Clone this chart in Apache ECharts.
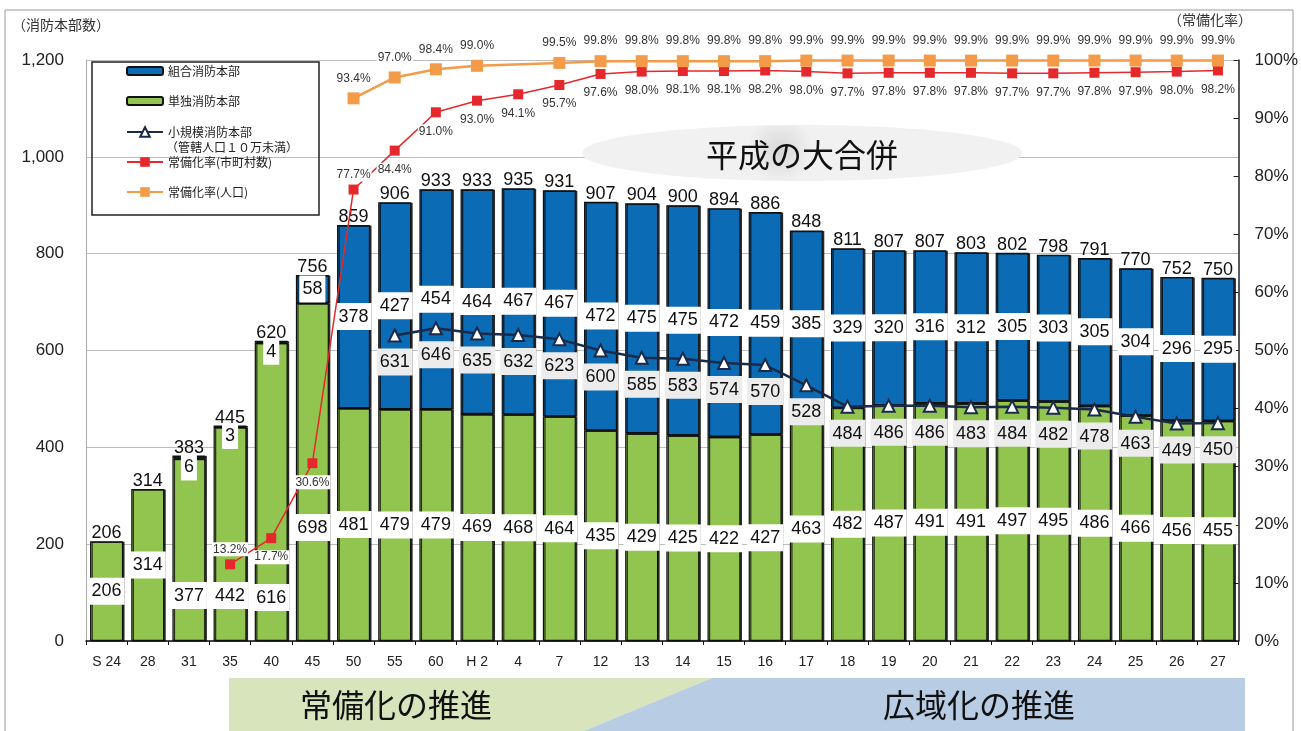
<!DOCTYPE html>
<html>
<head>
<meta charset="utf-8">
<script src="https://cdn.jsdelivr.net/npm/echarts@6/dist/echarts.min.js"></script>
<style>
  html, body { margin: 0; background: #fff; }
  #main { width: 1301px; height: 731px; }
</style>
</head>
<body>
<div id="main"></div>
<script>
// 年度（昭和S / 平成H）
const categories = ['S 24', '28', '31', '35', '40', '45', '50', '55', '60', 'H 2', '4', '7',
  '12', '13', '14', '15', '16', '17', '18', '19', '20', '21', '22', '23', '24', '25', '26', '27'];
// 消防本部数 合計
const totals = [206, 314, 383, 445, 620, 756, 859, 906, 933, 933, 935, 931,
  907, 904, 900, 894, 886, 848, 811, 807, 807, 803, 802, 798, 791, 770, 752, 750];
// 単独消防本部
const single = [206, 314, 377, 442, 616, 698, 481, 479, 479, 469, 468, 464,
  435, 429, 425, 422, 427, 463, 482, 487, 491, 491, 497, 495, 486, 466, 456, 455];
// 組合消防本部
const combined = [null, null, 6, 3, 4, 58, 378, 427, 454, 464, 467, 467,
  472, 475, 475, 472, 459, 385, 329, 320, 316, 312, 305, 303, 305, 304, 296, 295];
// 小規模消防本部（管轄人口10万未満）
const smallScale = [null, null, null, null, null, null, null, 631, 646, 635, 632, 623,
  600, 585, 583, 574, 570, 528, 484, 486, 486, 483, 484, 482, 478, 463, 449, 450];
// 常備化率（市町村数） %
const rateMunicipal = [null, null, null, 13.2, 17.7, 30.6, 77.7, 84.4, 91.0, 93.0, 94.1, 95.7,
  97.6, 98.0, 98.1, 98.1, 98.2, 98.0, 97.7, 97.8, 97.8, 97.8, 97.7, 97.7, 97.8, 97.9, 98.0, 98.2];
// 常備化率（人口） %
const ratePopulation = [null, null, null, null, null, null, 93.4, 97.0, 98.4, 99.0, null, 99.5,
  99.8, 99.8, 99.8, 99.8, 99.8, 99.9, 99.9, 99.9, 99.9, 99.9, 99.9, 99.9, 99.9, 99.9, 99.9, 99.9];

const NUM = '"Liberation Sans", Arial, sans-serif';
const JP = '"Noto Sans CJK JP", sans-serif';
const BLUE = '#0B6CB5', GREEN = '#92C550', NAVY = '#1B2A48', RED = '#E5282C', ORANGE = '#F39B48';

// label placement tweaks (layout only)
const greenLift = { '31': 32, '35': 32, '40': 30, '45': 100 };
const redAbove = ['35', '50'];

const chart = echarts.init(document.getElementById('main'));

const barLabel = {
  show: true, position: 'inside', fontFamily: NUM, fontSize: 18, color: '#111',
  backgroundColor: '#fff', padding: [5, 3, 4, 3]
};
const barItem = c => ({
  color: c, borderColor: '#111', borderWidth: 1.2,
  shadowColor: 'rgba(0,0,0,0.75)', shadowOffsetX: 1.5, shadowOffsetY: 0.5
});

const singleData = single.map((v, i) => greenLift[categories[i]]
  ? { value: v, label: { position: 'insideBottom', distance: greenLift[categories[i]] } } : v);
const combinedData = combined.map(v => v == null ? null
  : (v < 10 ? { value: v, label: { position: 'bottom', distance: -5 } } : v));
const redData = rateMunicipal.map((v, i) => v == null ? null
  : (redAbove.includes(categories[i]) ? { value: v, label: { position: 'top', distance: 3 } } : v));

const pctLabel = pos => ({
  show: true, position: pos, distance: 7, fontFamily: NUM, fontSize: 12, color: '#333',
  backgroundColor: '#fff', padding: [1, 1],
  formatter: p => p.value.toFixed(1) + '%'
});

const legendBase = (name, top, h) => ({
  left: 126, top: top, padding: 0, itemWidth: 36, itemHeight: h,
  textStyle: { fontFamily: JP, fontSize: 12, color: '#222' },
  data: [name]
});

const option = {
  animation: false,
  grid: { left: 86, right: 61, top: 60, bottom: 90 },
  legend: [
    legendBase('組合消防本部', 65, 8),
    legendBase('単独消防本部', 95, 8),
    legendBase('小規模消防本部', 126, 12),
    legendBase('常備化率(市町村数)', 156, 12),
    legendBase('常備化率(人口)', 186, 12)
  ],
  xAxis: {
    type: 'category',
    data: categories,
    axisLine: { lineStyle: { color: '#111', width: 1.5 } },
    axisTick: { show: true, length: 4, lineStyle: { color: '#111' } },
    axisLabel: { fontFamily: NUM, fontSize: 14, color: '#222', margin: 14 }
  },
  yAxis: [
    {
      type: 'value', min: 0, max: 1200, interval: 200,
      axisLine: { show: true, lineStyle: { color: '#aaa' } },
      axisTick: { show: false },
      splitLine: { lineStyle: { color: '#bdbdbd' } },
      axisLabel: { fontFamily: NUM, fontSize: 17, color: '#222', margin: 22,
        formatter: v => v.toLocaleString('en-US') }
    },
    {
      type: 'value', min: 0, max: 100, interval: 10, position: 'right',
      axisLine: { show: true, lineStyle: { color: '#222', width: 1.5 } },
      axisTick: { show: true, inside: true, length: 5, lineStyle: { color: '#222' } },
      splitLine: { show: false },
      axisLabel: { fontFamily: NUM, fontSize: 17, color: '#222', margin: 16, formatter: '{value}%' }
    }
  ],
  series: [
    {
      name: '単独消防本部', type: 'bar', stack: 'hq', barWidth: 33, barGap: '-100%',
      data: singleData, itemStyle: barItem(GREEN), label: barLabel
    },
    {
      name: '組合消防本部', type: 'bar', stack: 'hq', barWidth: 33, barGap: '-100%',
      data: combinedData, itemStyle: barItem(BLUE), label: barLabel
    },
    {
      name: '合計', type: 'bar', barWidth: 33, barGap: '-100%', silent: true,
      data: totals, itemStyle: { color: 'rgba(0,0,0,0)' },
      label: { show: true, position: 'top', distance: -1, fontFamily: NUM, fontSize: 18, color: '#111' }
    },
    {
      name: '小規模消防本部', type: 'line', yAxisIndex: 0, z: 3,
      data: smallScale, symbol: 'triangle', symbolSize: 12,
      itemStyle: { color: '#fff', borderColor: NAVY, borderWidth: 2 },
      lineStyle: { color: NAVY, width: 2.5 },
      label: { show: true, position: 'bottom', distance: 6, fontFamily: NUM, fontSize: 18, color: '#111',
        backgroundColor: '#ECECEC', padding: [5, 3, 4, 3] }
    },
    {
      name: '常備化率(市町村数)', type: 'line', yAxisIndex: 1, z: 3,
      data: redData, symbol: 'rect', symbolSize: 10,
      itemStyle: { color: RED }, lineStyle: { color: RED, width: 1.5 },
      label: pctLabel('bottom')
    },
    {
      name: '常備化率(人口)', type: 'line', yAxisIndex: 1, z: 3, connectNulls: true,
      data: ratePopulation, symbol: 'rect', symbolSize: 12,
      itemStyle: { color: ORANGE }, lineStyle: { color: ORANGE, width: 2.5 },
      label: pctLabel('top')
    }
  ],
  graphic: [
    { type: 'rect', z: 0, shape: { x: 5, y: 10, width: 1288, height: 740 },
      style: { fill: 'none', stroke: '#999', lineWidth: 1 } },
    { type: 'rect', z: 5, shape: { x: 92, y: 62, width: 227, height: 153 },
      style: { fill: 'none', stroke: '#222', lineWidth: 1.5 } },
    { type: 'text', z: 5, left: 166, top: 141,
      style: { text: '（管轄人口１０万未満）', font: '12px "Noto Sans CJK JP"', fill: '#222' } },
    { type: 'text', z: 5, left: 12, top: 18,
      style: { text: '（消防本部数）', font: '14px "Noto Sans CJK JP"', fill: '#333' } },
    { type: 'text', z: 5, left: 1168, top: 13,
      style: { text: '（常備化率）', font: '14px "Noto Sans CJK JP"', fill: '#333' } },
    { type: 'ellipse', z: 1, shape: { cx: 802, cy: 153, rx: 220, ry: 28 },
      style: { fill: { type: 'radial', x: 0.45, y: 0.45, r: 0.6,
        colorStops: [{ offset: 0, color: '#D8D8D8' }, { offset: 1, color: '#F1F1F1' }] } } },
    { type: 'text', z: 5, x: 802, y: 155,
      style: { text: '平成の大合併', font: '32px "Noto Sans CJK JP"', fill: '#111',
        textAlign: 'center', textVerticalAlign: 'middle' } },
    { type: 'polygon', z: 1, shape: { points: [[229, 678], [712, 678], [562, 740], [229, 740]] },
      style: { fill: '#D8E4BC' } },
    { type: 'polygon', z: 1, shape: { points: [[712, 678], [1245, 678], [1245, 740], [562, 740]] },
      style: { fill: '#B8CCE4' } },
    { type: 'text', z: 5, x: 396, y: 705,
      style: { text: '常備化の推進', font: '32px "Noto Sans CJK JP"', fill: '#111',
        textAlign: 'center', textVerticalAlign: 'middle' } },
    { type: 'text', z: 5, x: 979, y: 705,
      style: { text: '広域化の推進', font: '32px "Noto Sans CJK JP"', fill: '#111',
        textAlign: 'center', textVerticalAlign: 'middle' } }
  ]
};

chart.setOption(option);
</script>
</body>
</html>
